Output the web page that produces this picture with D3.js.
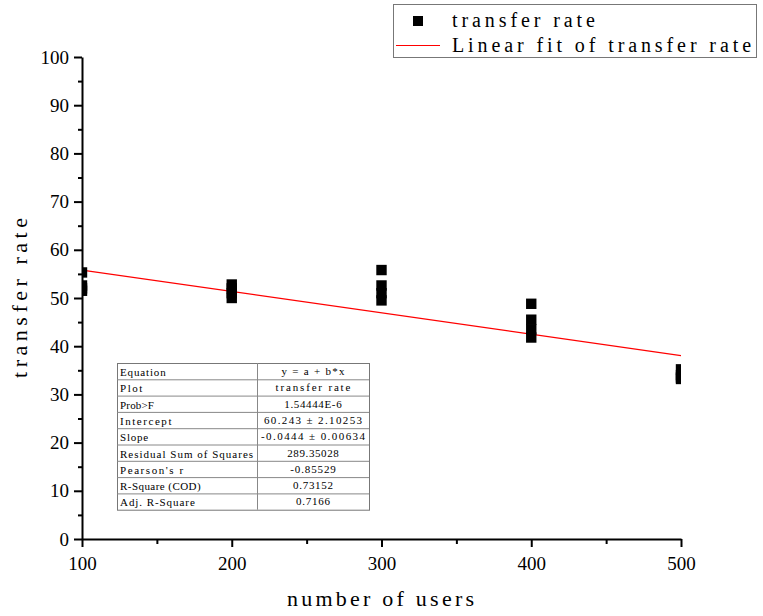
<!DOCTYPE html>
<html><head><meta charset="utf-8">
<script src="https://cdn.jsdelivr.net/npm/d3@7"></script>
<style>body{margin:0;background:#fff}svg{display:block}</style>
</head><body>
<svg id="c" width="763" height="616"></svg>
<script>
const users = [100,100,100,100,200,200,200,200,300,300,300,300,400,400,400,400,500,500,500,500];
const transferRate = [55.3,52.6,52.0,51.5,52.8,52.0,51.0,50.0,55.8,52.6,51.0,49.5,48.8,45.5,43.5,41.8,35.2,34.0,33.5,33.2];
const fitIntercept = [60.243];
const fitSlope = [-0.0444];
const xTicks = [100,200,300,400,500];
const yTicks = [0,10,20,30,40,50,60,70,80,90,100];
const tableRows = [
  ["Equation","y = a + b*x"],
  ["Plot","transfer rate"],
  ["Prob>F","1.54444E-6"],
  ["Intercept","60.243 \u00b1 2.10253"],
  ["Slope","-0.0444 \u00b1 0.00634"],
  ["Residual Sum of Squares","289.35028"],
  ["Pearson's r","-0.85529"],
  ["R-Square (COD)","0.73152"],
  ["Adj. R-Square","0.7166"]
];
const legendLabels = ["transfer rate","Linear fit of transfer rate"];

const svg = d3.select("#c");
const x = d3.scaleLinear().domain([100,500]).range([82,681]);
const y = d3.scaleLinear().domain([0,100]).range([539,57]);
const serif = "'Liberation Serif','DejaVu Serif',serif";
// half-width monospace emulation: width per character
const cw = (s, w) => Array.from(s).reduce((a,c)=>a+(c==="\u00b1"?2:1),0)*w;

svg.append("clipPath").attr("id","pc").append("rect")
  .attr("x",82).attr("y",57).attr("width",599).attr("height",482);

// fit line
const fx = [100,500];
svg.append("line").attr("clip-path","url(#pc)")
  .attr("x1",x(fx[0])).attr("y1",y(fitIntercept[0]+fitSlope[0]*fx[0]))
  .attr("x2",x(fx[1])).attr("y2",y(fitIntercept[0]+fitSlope[0]*fx[1]))
  .attr("stroke","#ff0000").attr("stroke-width",1.2);

// points
const ms = 10.4;
svg.append("g").attr("clip-path","url(#pc)").selectAll("rect").data(users).join("rect")
  .attr("x",(d)=>x(d)-ms/2).attr("y",(d,i)=>y(transferRate[i])-ms/2)
  .attr("width",ms).attr("height",ms).attr("fill","#000");

// axes
const xAxis = svg.append("g").attr("transform","translate(0,539)")
  .call(d3.axisBottom(x).tickValues(xTicks).tickSize(8).tickSizeOuter(0).tickPadding(10));
svg.append("g").attr("transform","translate(0,539)")
  .call(d3.axisBottom(x).tickValues([150,250,350,450]).tickSize(5).tickFormat(""))
  .select(".domain").remove();
const yAxis = svg.append("g").attr("transform","translate(82,0)")
  .call(d3.axisLeft(y).tickValues(yTicks).tickSize(8).tickSizeOuter(0).tickPadding(5));
svg.append("g").attr("transform","translate(82,0)")
  .call(d3.axisLeft(y).tickValues(d3.range(5,100,10)).tickSize(4).tickFormat(""))
  .select(".domain").remove();
svg.selectAll(".domain").attr("stroke","#000").attr("stroke-width",2);
svg.selectAll(".tick line").attr("stroke","#000").attr("stroke-width",2);
xAxis.selectAll("text").attr("font-family",serif).attr("font-size",19).attr("fill","#000");
yAxis.selectAll("text").attr("font-family",serif).attr("font-size",19).attr("fill","#000");

// axis titles
svg.append("text").attr("x",287).attr("y",606)
  .attr("font-family",serif).attr("font-size",22)
  .attr("textLength",187).attr("lengthAdjust","spacing").text("number of users");
svg.append("text").attr("transform","translate(27,378) rotate(-90)")
  .attr("font-family",serif).attr("font-size",22)
  .attr("textLength",160).attr("lengthAdjust","spacing").text("transfer rate");

// legend
const lg = svg.append("g");
lg.append("rect").attr("x",393.5).attr("y",4.5).attr("width",363).attr("height",53)
  .attr("fill","#fff").attr("stroke","#777").attr("stroke-width",1);
lg.append("rect").attr("x",413).attr("y",16).attr("width",10).attr("height",10).attr("fill","#000");
lg.append("line").attr("x1",396).attr("x2",440).attr("y1",45.5).attr("y2",45.5)
  .attr("stroke","#ff0000").attr("stroke-width",1.2);
lg.selectAll("text.l").data(legendLabels).join("text").attr("class","l")
  .attr("x",452).attr("y",(d,i)=>27+i*25)
  .attr("font-family",serif).attr("font-size",20)
  .attr("textLength",d=>cw(d,11.15)-2).attr("lengthAdjust","spacing").text(d=>d);

// table
const tx0 = 117, tx1 = 257, tx2 = 369, ty0 = 363, rh = 16.3;
const tg = svg.append("g");
tg.append("rect").attr("x",tx0+0.5).attr("y",ty0+0.5).attr("width",tx2-tx0).attr("height",rh*tableRows.length)
  .attr("fill","#fff").attr("stroke","#777");
tableRows.forEach((r,i)=>{
  if(i>0) tg.append("line").attr("x1",tx0).attr("x2",tx2).attr("y1",ty0+0.5+i*rh).attr("y2",ty0+0.5+i*rh).attr("stroke","#888");
  tg.append("text").attr("x",tx0+3).attr("y",ty0+i*rh+13).attr("font-family",serif).attr("font-size",11)
    .attr("textLength",cw(r[0],5.83)-1).attr("lengthAdjust","spacing").text(r[0]);
  const w = cw(r[1],5.83)-1;
  tg.append("text").attr("x",(tx1+tx2)/2 - w/2).attr("y",ty0+i*rh+12).attr("font-family",serif).attr("font-size",11)
    .attr("textLength",w).attr("lengthAdjust","spacing").text(r[1]);
});
tg.append("line").attr("x1",tx1+0.5).attr("x2",tx1+0.5).attr("y1",ty0).attr("y2",ty0+rh*tableRows.length).attr("stroke","#888");
</script>
</body></html>
